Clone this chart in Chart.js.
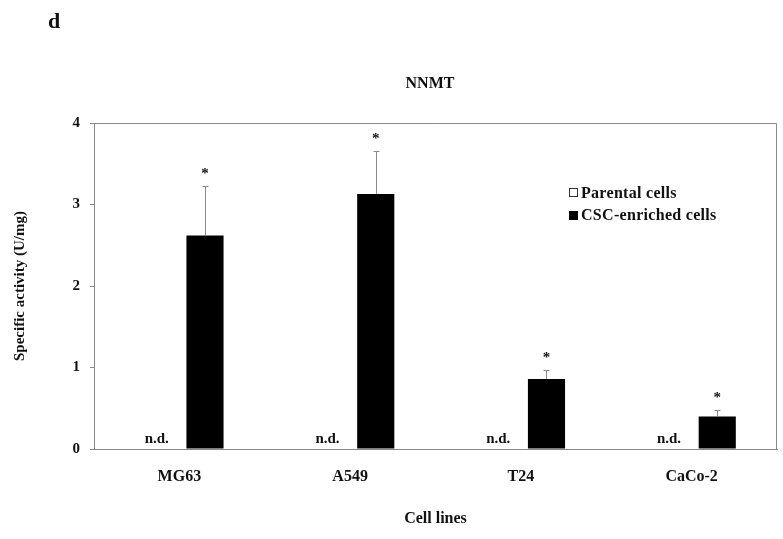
<!DOCTYPE html>
<html lang="en">
<head>
<meta charset="UTF-8">
<title>NNMT specific activity</title>
<script src="https://cdn.jsdelivr.net/npm/chart.js"></script>
<style>
  body { margin: 0; background: #fff; }
  .wrap { width: 783px; height: 539px; }
</style>
</head>
<body>
<div class="wrap"><canvas id="chart"></canvas></div>
<script>
const cellLines = ['MG63', 'A549', 'T24', 'CaCo-2'];
const parental = [0, 0, 0, 0];              // not detected
const cscEnriched = [2.62, 3.13, 0.86, 0.40];
const cscError = [0.61, 0.53, 0.11, 0.08];
const yTicks = [0, 1, 2, 3, 4];
const parentalLabels = ['n.d.', 'n.d.', 'n.d.', 'n.d.'];
const significance = ['*', '*', '*', '*'];

const serif = '"Liberation Serif", "Times New Roman", serif';
const axisGray = '#8a8a8a';

// frame, error bars, stars, n.d. labels, legend and headings
const extras = {
  id: 'extras',
  afterDatasetsDraw(chart) {
    const { ctx, chartArea: a, scales: { y } } = chart;
    const par = chart.getDatasetMeta(0).data;
    const csc = chart.getDatasetMeta(1).data;
    ctx.save();

    ctx.strokeStyle = axisGray;
    ctx.lineWidth = 1;
    ctx.beginPath();
    ctx.moveTo(a.left, a.top + 0.5);
    ctx.lineTo(a.right - 0.5, a.top + 0.5);
    ctx.lineTo(a.right - 0.5, a.bottom);
    ctx.stroke();

    ctx.fillStyle = '#111';
    ctx.textAlign = 'center';
    ctx.textBaseline = 'alphabetic';
    ctx.font = 'bold 15px ' + serif;
    csc.forEach((bar, i) => {
      const top = Math.round(y.getPixelForValue(cscEnriched[i] + cscError[i])) + 0.5;
      const x = Math.round(bar.x) + 0.5;
      ctx.strokeStyle = '#8a8a8a';
      ctx.beginPath();
      ctx.moveTo(x, bar.y);
      ctx.lineTo(x, top);
      ctx.moveTo(x - 3, top);
      ctx.lineTo(x + 3, top);
      ctx.stroke();
      ctx.fillText(significance[i], bar.x, top - 9);
    });

    const zero = y.getPixelForValue(0);
    par.forEach((bar, i) => {
      ctx.fillText(parentalLabels[i], bar.x + 3, zero - 6);
    });

    // legend
    ctx.strokeStyle = '#333';
    ctx.fillStyle = '#fff';
    ctx.fillRect(569, 188, 8, 8);
    ctx.strokeRect(569.5, 188.5, 8, 8);
    ctx.fillStyle = '#000';
    ctx.fillRect(569, 211, 9, 9);
    ctx.fillStyle = '#111';
    ctx.textAlign = 'left';
    ctx.font = 'bold 16px ' + serif;
    ctx.letterSpacing = '0.3px';
    ctx.fillText(chart.data.datasets[0].label, 581, 198);
    ctx.fillText(chart.data.datasets[1].label, 581, 220);
    ctx.letterSpacing = '0px';

    ctx.textAlign = 'center';
    ctx.textBaseline = 'middle';
    ctx.font = 'bold 16px ' + serif;
    ctx.fillText('NNMT', 430, 84);
    ctx.font = 'bold 22px ' + serif;
    ctx.fillText('d', 54, 22);
    ctx.restore();
  }
};

new Chart(document.getElementById('chart'), {
  type: 'bar',
  data: {
    labels: cellLines,
    datasets: [
      {
        label: 'Parental cells',
        data: parental,
        backgroundColor: '#fff',
        borderWidth: 0,
        categoryPercentage: 0.6,
        barPercentage: 0.725
      },
      {
        label: 'CSC-enriched cells',
        data: cscEnriched,
        backgroundColor: '#000',
        borderWidth: 0,
        categoryPercentage: 0.6,
        barPercentage: 0.725
      }
    ]
  },
  options: {
    responsive: true,
    maintainAspectRatio: false,
    animation: false,
    layout: { padding: { top: 123, right: 6, left: 0, bottom: 0 } },
    plugins: {
      legend: { display: false },
      tooltip: { enabled: false }
    },
    scales: {
      x: {
        afterFit: s => { s.height = 90; },
        grid: { display: false },
        border: { color: axisGray },
        ticks: { color: '#111', padding: 10, font: { family: serif, size: 16, weight: 'bold' } },
        title: {
          display: true,
          text: 'Cell lines',
          color: '#111',
          padding: { top: 0, bottom: 11 },
          font: { family: serif, size: 16, weight: 'bold' }
        }
      },
      y: {
        min: 0,
        max: 4,
        afterFit: s => { s.width = 94; },
        afterBuildTicks: s => { s.ticks = yTicks.map(v => ({ value: v })); },
        grid: { drawOnChartArea: false, tickLength: 4, color: axisGray },
        border: { color: axisGray },
        ticks: { color: '#111', padding: 10, font: { family: serif, size: 15, weight: 'bold' } },
        title: {
          display: true,
          text: 'Specific activity (U/mg)',
          color: '#111',
          padding: { top: 11, bottom: 0 },
          font: { family: serif, size: 15, weight: 'bold' }
        }
      }
    }
  },
  plugins: [extras]
});
</script>
</body>
</html>
